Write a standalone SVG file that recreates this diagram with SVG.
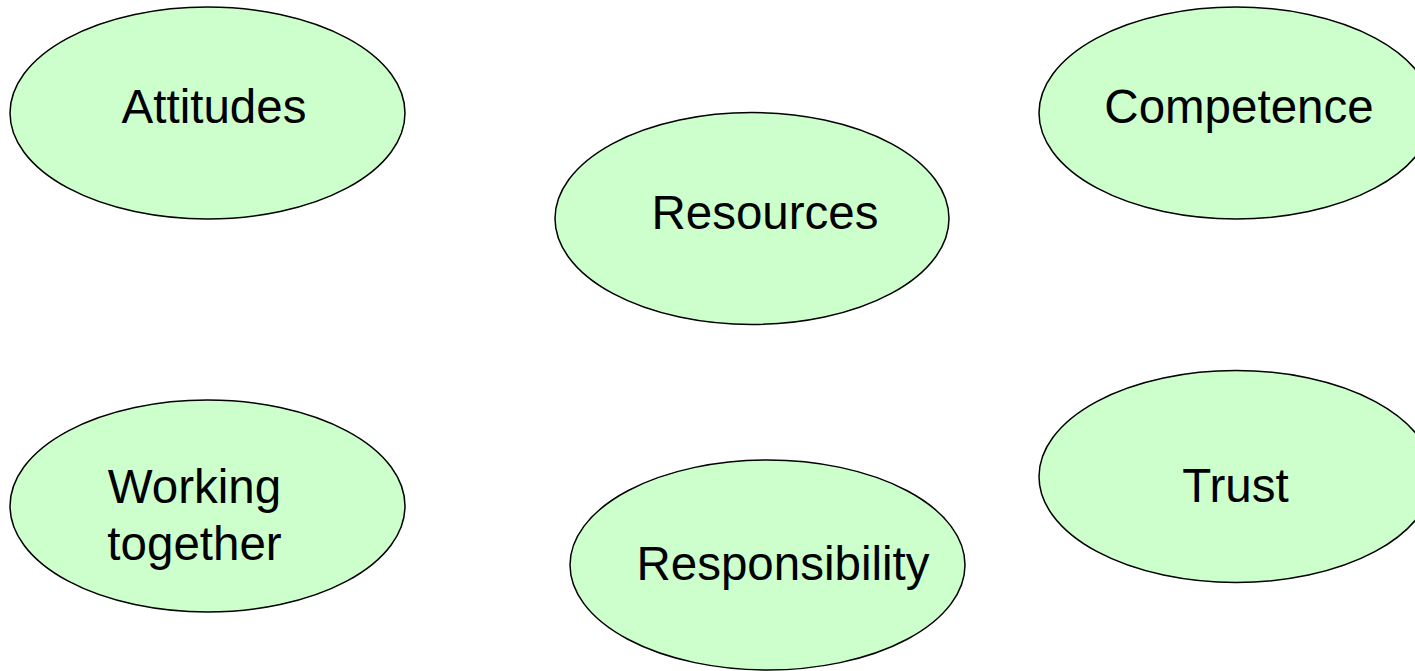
<svg xmlns="http://www.w3.org/2000/svg" width="1415" height="671" viewBox="0 0 1415 671">
<style>
.n{fill:#ccffcc;stroke:#000;stroke-width:1.5}
.t{font-family:"Liberation Sans",Arial,sans-serif;font-size:47.5px;fill:#000;text-anchor:middle}
</style>
<rect width="1415" height="671" fill="#fff"/>
<g id="connectors"/>
<g id="attitudes"><ellipse class="n" cx="207.5" cy="113" rx="197.5" ry="106"/><text class="t" x="214" y="123">Attitudes</text></g>
<g id="competence"><ellipse class="n" cx="1236" cy="113" rx="197" ry="106"/><text class="t" x="1239" y="123">Competence</text></g>
<g id="resources"><ellipse class="n" cx="752" cy="218.5" rx="197" ry="106"/><text class="t" x="765" y="229">Resources</text></g>
<g id="working-together"><ellipse class="n" cx="207.5" cy="506" rx="197.5" ry="106"/><text class="t" x="194.5" y="503">Working</text><text class="t" x="194.5" y="560">together</text></g>
<g id="trust"><ellipse class="n" cx="1236" cy="476.5" rx="197" ry="106"/><text class="t" x="1235.5" y="502">Trust</text></g>
<g id="responsibility"><ellipse class="n" cx="767.5" cy="565" rx="197.5" ry="105"/><text class="t" x="783" y="580">Responsibility</text></g>
</svg>
